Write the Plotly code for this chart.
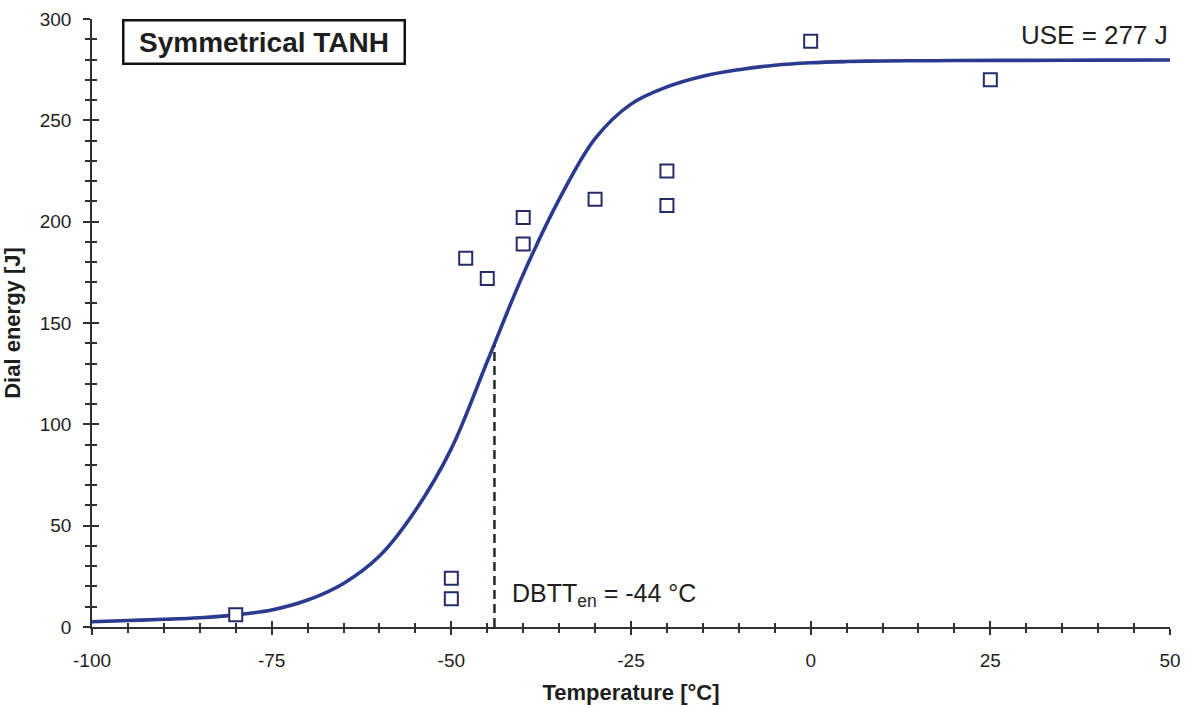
import plotly.graph_objects as go

# Measured data points (temperature [°C], dial energy [J])
test_temp = [-80, -50, -50, -48, -45, -40, -40, -30, -20, -20, 0, 25]
test_energy = [6, 24, 14, 182, 172, 202, 189, 211, 225, 208, 289, 270]

# Fitted symmetrical tanh curve
curve_temp = [-100, -95, -90, -85, -80, -75, -70, -65, -60, -55, -50, -45,
              -40, -35, -30, -25, -20, -15, -10, -5, 0, 5, 10, 15, 20, 30, 40, 50]
curve_energy = [2.6, 3.2, 3.8, 4.6, 6.0, 8.4, 13.3, 21.5, 35, 57.5, 88, 131,
                174, 211, 241, 258, 266.5, 271.8, 275, 277.2, 278.4, 279, 279.3,
                279.4, 279.5, 279.6, 279.7, 279.8]

dbtt_temp = -44
dbtt_energy = 139
use_value = 277

x_ticks = [-100, -75, -50, -25, 0, 25, 50]
y_ticks = [0, 50, 100, 150, 200, 250, 300]

FONT = "Liberation Sans, Arial, sans-serif"
AXIS_COLOR = "#2f2f2f"
CURVE_COLOR = "#2a3a8f"
MARK_COLOR = "#262b6b"
TEXT_COLOR = "#1e1e1e"

fig = go.Figure()

fig.add_trace(go.Scatter(
    x=curve_temp, y=curve_energy, mode="lines",
    line=dict(color=CURVE_COLOR, width=3.6, shape="spline", smoothing=1.0),
    hoverinfo="skip", showlegend=False,
))

fig.add_trace(go.Scatter(
    x=test_temp, y=test_energy, mode="markers",
    marker=dict(symbol="square", size=13, color="white",
                line=dict(color=MARK_COLOR, width=2)),
    showlegend=False,
))

# dashed DBTT line on overlaying axes (also creates the crossing-tick axes)
fig.add_trace(go.Scatter(
    x=[dbtt_temp, dbtt_temp], y=[0, dbtt_energy], mode="lines",
    line=dict(color="#1f2b2b", width=2.5, dash="9px,5px"),
    xaxis="x2", yaxis="y2", hoverinfo="skip", showlegend=False,
))

common_x = dict(range=[-100, 50], showgrid=False, zeroline=False,
                showline=True, linecolor=AXIS_COLOR, linewidth=1.5,
                tickcolor=AXIS_COLOR, tickwidth=1.5, fixedrange=True)
common_y = dict(range=[0, 300], showgrid=False, zeroline=False,
                showline=True, linecolor=AXIS_COLOR, linewidth=1.5,
                tickcolor=AXIS_COLOR, tickwidth=1.5, fixedrange=True)

fig.update_layout(
    width=1192, height=706,
    margin=dict(l=92, r=22, t=19, b=79, autoexpand=False),
    paper_bgcolor="white", plot_bgcolor="white",
    font=dict(family=FONT, color=TEXT_COLOR),
    xaxis=dict(**common_x, tickmode="array", tickvals=x_ticks,
               ticktext=[str(v) for v in x_ticks],
               ticks="outside", ticklen=6,
               minor=dict(ticks="outside", dtick=5, tick0=0, ticklen=4,
                          tickcolor=AXIS_COLOR, tickwidth=1.5, showgrid=False),
               tickfont=dict(size=19, family=FONT, color=TEXT_COLOR),
               ticklabelstandoff=9,
               title=dict(text="<b>Temperature [°C]</b>",
                          font=dict(size=22, family=FONT, color=TEXT_COLOR),
                          standoff=15)),
    yaxis=dict(**common_y, tickmode="array", tickvals=y_ticks,
               ticktext=[str(v) for v in y_ticks],
               ticks="outside", ticklen=7,
               minor=dict(ticks="outside", dtick=10, tick0=0, ticklen=5,
                          tickcolor=AXIS_COLOR, tickwidth=1.5, showgrid=False),
               tickfont=dict(size=19, family=FONT, color=TEXT_COLOR),
               ticklabelstandoff=8,
               title=dict(text="<b>Dial energy [J]</b>",
                          font=dict(size=22, family=FONT, color=TEXT_COLOR),
                          standoff=14)),
    xaxis2=dict(**common_x, overlaying="x", anchor="y", side="bottom",
                tickmode="array", tickvals=x_ticks, showticklabels=False,
                ticks="inside", ticklen=6,
                minor=dict(ticks="inside", dtick=5, tick0=0, ticklen=4,
                           tickcolor=AXIS_COLOR, tickwidth=1.5, showgrid=False)),
    yaxis2=dict(**common_y, overlaying="y", anchor="x", side="left",
                tickmode="array", tickvals=y_ticks, showticklabels=False,
                ticks="inside", ticklen=7,
                minor=dict(ticks="inside", dtick=10, tick0=0, ticklen=5,
                           tickcolor=AXIS_COLOR, tickwidth=1.5, showgrid=False)),
    annotations=[
        dict(text="<b>Symmetrical TANH</b>", xref="paper", yref="paper",
             x=0.0278, y=1.0, xanchor="left", yanchor="top", showarrow=False,
             font=dict(size=28, family=FONT, color=TEXT_COLOR),
             bordercolor="#111111", borderwidth=2.5, borderpad=0,
             bgcolor="white", width=279, height=41),
        dict(text=f"USE = {use_value} J", xref="x", yref="y",
             x=50, y=292, xanchor="right", yanchor="middle", showarrow=False,
             font=dict(size=26, family=FONT, color=TEXT_COLOR)),
        dict(text=f"DBTT<sub>en</sub> = {dbtt_temp} °C", xref="x", yref="y",
             x=-41.9, y=16, xanchor="left", yanchor="middle", showarrow=False,
             font=dict(size=25, family=FONT, color=TEXT_COLOR)),
    ],
)

fig.write_html("out.html")
